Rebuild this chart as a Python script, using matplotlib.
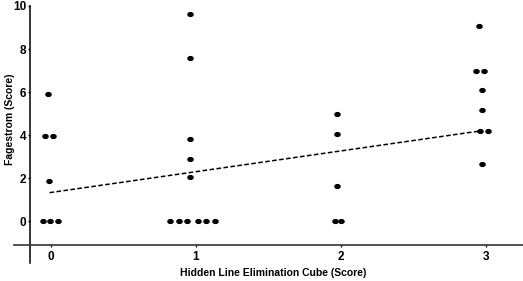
import numpy as np
import matplotlib
matplotlib.use("Agg")
import matplotlib.pyplot as plt
from matplotlib.path import Path
from matplotlib.transforms import Affine2D

plt.rcParams['font.family'] = ['Liberation Sans', 'DejaVu Sans']

# score group (x) plus small horizontal offset
hlec_score = [0, 0, 0, 0, 0, 0, 0,
              1, 1, 1, 1, 1, 1, 1, 1, 1, 1, 1,
              2, 2, 2, 2, 2,
              3, 3, 3, 3, 3, 3, 3, 3]
jitter = [-0.02, -0.044, 0.014, -0.012, -0.055, -0.01, 0.046,
          -0.039, -0.039, -0.039, -0.039, -0.039, -0.179, -0.12, -0.06, 0.014, 0.072, 0.131,
          -0.025, -0.025, -0.025, -0.044, 0.0,
          -0.048, -0.067, -0.012, -0.025, -0.025, -0.04, 0.014, -0.025]
fagestrom = [5.9, 3.97, 3.97, 1.86, 0, 0, 0,
             9.63, 7.57, 3.81, 2.88, 2.03, 0, 0, 0, 0, 0, 0,
             4.98, 4.03, 1.63, 0, 0,
             9.07, 6.98, 6.98, 6.09, 5.16, 4.19, 4.19, 2.64]

# trend line end points
trend_x = [-0.01, 2.97]
trend_y = [1.32, 4.2]

x_ticks = [0, 1, 2, 3]
y_ticks = [0, 2, 4, 6, 8, 10]

fig = plt.figure(figsize=(5.23, 2.81), dpi=100)
ax = fig.add_axes([14 / 523, 18 / 281, 509 / 523, 257 / 281])

ellipse = Path.unit_circle().transformed(Affine2D().scale(1.35, 1.0))
xs = np.array(hlec_score) + np.array(jitter)
ax.plot(xs, fagestrom, linestyle="none", marker=ellipse, markersize=3.7,
        color="black")
ax.plot(trend_x, trend_y, color="black", linestyle=(0, (3, 1.6)), linewidth=1.1)

ax.set_xlim(-0.255, 3.255)
ax.set_ylim(-1.95, 10)

for s in ["top", "right"]:
    ax.spines[s].set_visible(False)
ax.spines["left"].set_position(("data", -0.143))
ax.spines["bottom"].set_position(("data", -1.12))
ax.spines["left"].set_linewidth(1.1)
ax.spines["bottom"].set_linewidth(1.2)
ax.spines["bottom"].set_color("#333333")

ax.set_xticks(x_ticks)
ax.set_yticks(y_ticks)
ax.tick_params(axis="both", length=1.5, width=1, labelsize=8.5, pad=1.5)
ax.tick_params(axis="x", pad=2.5)
for lab in ax.get_xticklabels() + ax.get_yticklabels():
    lab.set_fontweight("bold")

fig.text(273 / 523, 1 - 273 / 281, "Hidden Line Elimination Cube (Score)",
         ha="center", va="center", fontsize=7.5, fontweight="bold")
fig.text(10 / 523, 1 - 119.5 / 281, "Fagestrom (Score)", rotation=90,
         ha="center", va="center", fontsize=7.5, fontweight="bold")

fig.savefig("out.png", dpi=100)
